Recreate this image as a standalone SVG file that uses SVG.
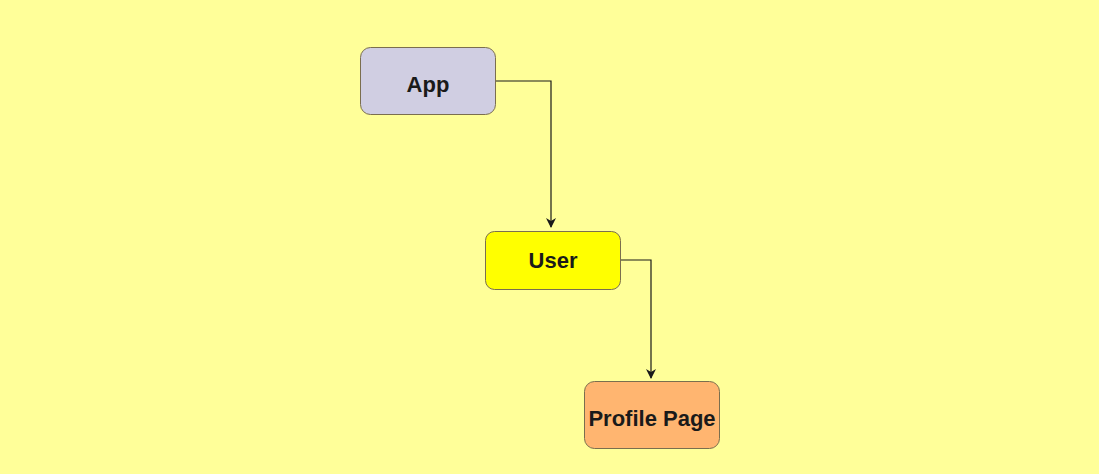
<svg xmlns="http://www.w3.org/2000/svg" width="1099" height="474" viewBox="0 0 1099 474">
<style>
.node rect{stroke:#7a6e4e;stroke-width:1}
.node text{font-family:"Liberation Sans",Arial,sans-serif;font-weight:bold;font-size:22px;fill:#1a1a1a;text-anchor:middle;dominant-baseline:central}
.edge{fill:none;stroke:#1a1a1a;stroke-width:1.2}
</style>
<defs>
<marker id="arr" viewBox="0 0 10 10" refX="9" refY="5" markerWidth="10" markerHeight="10" markerUnits="userSpaceOnUse" orient="auto">
<path d="M0,0 L10,5 L0,10 L3,5 Z" fill="#1a1a1a"/>
</marker>
</defs>
<rect width="1099" height="474" fill="#FFFF99"/>
<g id="connectors">
<path class="edge" d="M495,81 H551 V227" marker-end="url(#arr)"/>
<path class="edge" d="M620,260 H651 V378" marker-end="url(#arr)"/>
</g>
<g id="app" class="node">
<rect x="360.5" y="47.5" width="135" height="67" rx="10" fill="#D0CEE2"/>
<text x="428" y="84">App</text>
</g>
<g id="user" class="node">
<rect x="485.5" y="231.5" width="135" height="58" rx="9" fill="#FFFF00"/>
<text x="553" y="260">User</text>
</g>
<g id="profile" class="node">
<rect x="584.5" y="381.5" width="135" height="67" rx="10" fill="#FFB570"/>
<text x="652" y="418">Profile Page</text>
</g>
</svg>
